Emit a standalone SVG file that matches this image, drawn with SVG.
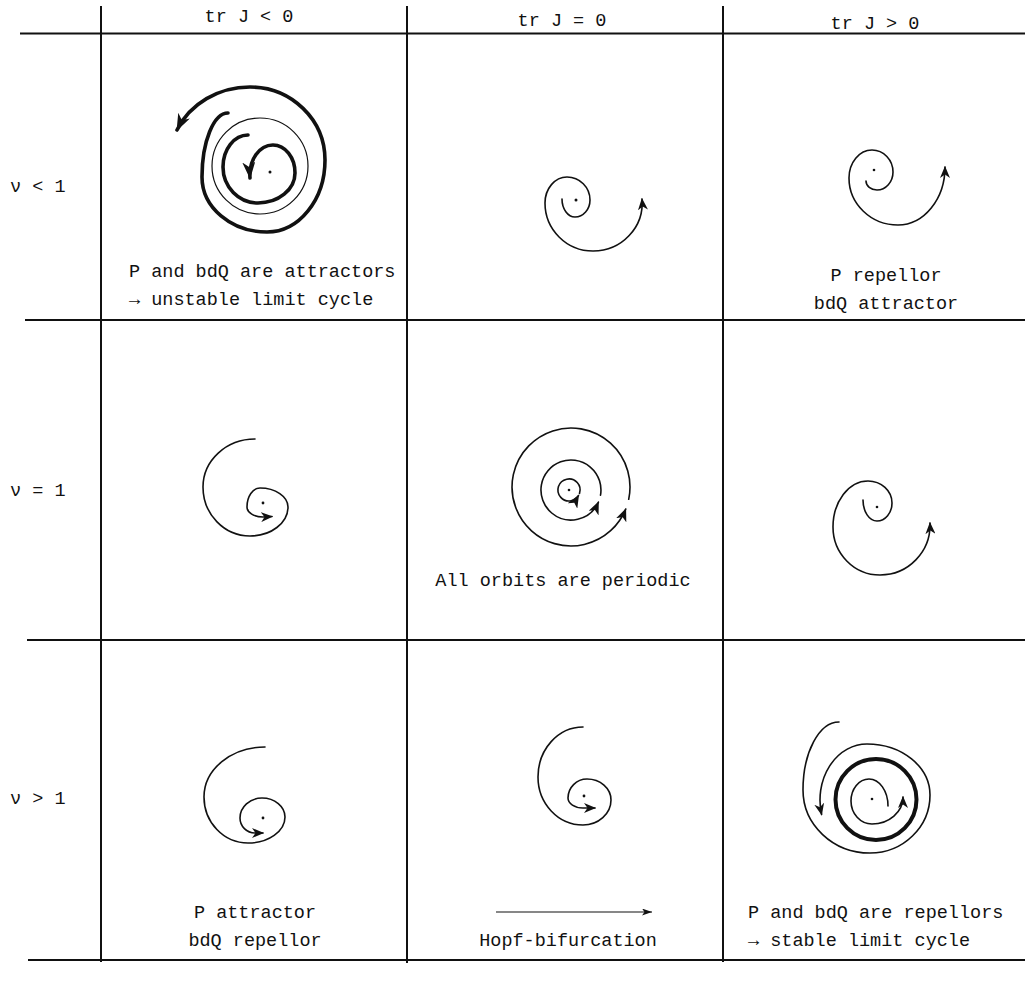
<svg xmlns="http://www.w3.org/2000/svg" width="1025" height="990" viewBox="0 0 1025 990">
<style>
.t{font-family:"Liberation Mono",monospace;font-size:18.5px;fill:#111}
.m{text-anchor:middle}
.g{stroke:#111;stroke-width:2;fill:none}
.s{stroke:#111;stroke-width:1.6;fill:none;stroke-linecap:round}
.k{stroke:#111;stroke-width:3.6;fill:none;stroke-linecap:round}
.th{stroke:#111;stroke-width:1.2;fill:none}
.d{fill:#111}
</style>
<defs>
<marker id="a" markerUnits="userSpaceOnUse" viewBox="0 0 12 10" refX="11" refY="5" markerWidth="12" markerHeight="10" orient="auto"><path d="M0,0 L12,5 L0,10 L3.5,5 Z" fill="#111"/></marker>
<marker id="aB" markerUnits="userSpaceOnUse" viewBox="0 0 13 11" refX="12" refY="5.5" markerWidth="13" markerHeight="11" orient="auto"><path d="M0,0 L13,5.5 L0,11 L3.5,5.5 Z" fill="#111"/></marker>
<marker id="aL" markerUnits="userSpaceOnUse" viewBox="0 0 17 13" refX="16" refY="6.5" markerWidth="17" markerHeight="13" orient="auto"><path d="M0,0 L17,6.5 L0,13 L5,6.5 Z" fill="#111"/></marker>
<marker id="aS" markerUnits="userSpaceOnUse" viewBox="0 0 10 7" refX="10" refY="3.5" markerWidth="10" markerHeight="7" orient="auto"><path d="M0,0 L10,3.5 L0,7 L2.5,3.5 Z" fill="#111"/></marker>
</defs>
<rect width="1025" height="990" fill="#fff"/>
<g id="grid">
<path class="g" d="M20,33.5 L1025,33.5 M25,320 L1025,320 M27,640 L1025,640 M28,960 L1025,960"/>
<path class="g" d="M101,6 L101,962" stroke-width="2.6"/>
<path class="g" d="M407,6 L407,963 M723,6 L723,962"/>
</g>
<g id="headers">
<text class="t m" x="249" y="22">tr J &lt; 0</text>
<text class="t m" x="562" y="26">tr J = 0</text>
<text class="t m" x="875" y="29">tr J &gt; 0</text>
<text class="t" x="10" y="192">ν &lt; 1</text>
<text class="t" x="10" y="496">ν = 1</text>
<text class="t" x="10" y="804">ν &gt; 1</text>
</g>
<g id="cell-r1c1">
<path class="k" marker-end="url(#aL)" d="M228,113 A26,64 0 0 0 202,177 A65,55 0 0 0 267,232 A58,72 0 0 0 325,160 A75,73 0 0 0 250,87 A80,73 0 0 0 177,130"/>
<circle cx="260" cy="166" r="48" class="th" stroke-width="1.4"/>
<path class="k" stroke-width="3.2" marker-end="url(#aL)" d="M248,135 A25,32 0 0 0 223,167 A35,36 0 0 0 258,203 A37,30 0 0 0 295,173 A22,28 0 0 0 273,145 A23,30 0 0 0 250,178"/>
<circle class="d" cx="270" cy="172" r="1.5"/>
<text class="t" x="129" y="277">P and bdQ are attractors</text>
<text class="t" x="129" y="305">→ unstable limit cycle</text>
</g>
<g id="cell-r1c2">
<path class="s" marker-end="url(#a)" d="M562,199 A13,18 0 0 0 575,217 A15,17 0 0 0 590,200 A23,23 0 0 0 567,177 A22,26 0 0 0 545,203 A48,48 0 0 0 593,251 A49,48 0 0 0 642,199"/>
<circle class="d" cx="576" cy="200" r="1.5"/>
</g>
<g id="cell-r1c3">
<path class="s" marker-end="url(#a)" d="M866,181 A11,9 0 0 0 877,190 A16,18 0 0 0 893,172 A21,22 0 0 0 872,150 A23,28 0 0 0 849,178 A49,47 0 0 0 898,225 A47,58 0 0 0 945,167"/>
<circle class="d" cx="874" cy="170" r="1.3"/>
<text class="t m" x="886" y="281">P repellor</text>
<text class="t m" x="886" y="309">bdQ attractor</text>
</g>
<g id="cell-r2c1">
<path class="s" marker-end="url(#a)" d="M255,439 A52,48 0 0 0 203,487 A47,49 0 0 0 250,536 A38,29 0 0 0 288,507 A28,19 0 0 0 260,488 A13,19 0 0 0 247,507 A16,10 0 0 0 263,517 L272,516.5"/>
<circle class="d" cx="263" cy="503" r="1.4"/>
</g>
<g id="cell-r2c2">
<path class="s" stroke-width="1.5" marker-end="url(#aB)" d="M579.5,493.4 A11,11 0 0 0 566.7,479.2 A11,11 0 0 0 560.8,497.4 A11,11 0 0 0 578.5,495.5"/>
<path class="s" stroke-width="1.5" marker-end="url(#aB)" d="M600.5,495.2 A30,30 0 0 0 560.7,461.8 A30,30 0 0 0 551.7,513 A30,30 0 0 0 598.4,502.2"/>
<path class="s" stroke-width="1.5" marker-end="url(#aB)" d="M628.7,499.3 A59,59 0 0 0 552.8,430.9 A59,59 0 0 0 531.5,530.8 A59,59 0 0 0 625.7,509.1"/>
<circle class="d" cx="569" cy="490" r="1.3"/>
<text class="t m" x="563" y="586">All orbits are periodic</text>
</g>
<g id="cell-r2c3">
<path class="s" marker-end="url(#a)" d="M863,500 A14,21 0 0 0 877,521 A15,18 0 0 0 892,503 A24,22 0 0 0 868,481 A35,46 0 0 0 833,527 A47,48 0 0 0 880,575 A50,50 0 0 0 930,523"/>
<circle class="d" cx="877" cy="507" r="1.3"/>
</g>
<g id="cell-r3c1">
<path class="s" marker-end="url(#a)" d="M265,747 A61,50 0 0 0 204,797 A44,46 0 0 0 248,843 A37,26 0 0 0 285,817 A23,19 0 0 0 262,798 A22,20 0 0 0 240,818 A15,15 0 0 0 255,833 L263,833"/>
<circle class="d" cx="263" cy="818" r="1.4"/>
<text class="t m" x="255" y="918">P attractor</text>
<text class="t m" x="255" y="946">bdQ repellor</text>
</g>
<g id="cell-r3c2">
<path class="s" marker-end="url(#a)" d="M583,727 A45,50 0 0 0 538,777 A45,48 0 0 0 583,825 A28,25 0 0 0 611,800 A24,21 0 0 0 587,779 A19,19 0 0 0 568,798 A15,10 0 0 0 583,808 L595,808"/>
<circle class="d" cx="584" cy="796" r="1.4"/>
<path class="th" marker-end="url(#aS)" d="M496,912 L652,912"/>
<text class="t m" x="568" y="946">Hopf-bifurcation</text>
</g>
<g id="cell-r3c3">
<path class="s" stroke-width="1.4" marker-end="url(#a)" d="M839,722 A36,68 0 0 0 803,790 A67,63 0 0 0 870,853 A60,58 0 0 0 930,795 A63,51 0 0 0 867,744 A47,56 0 0 0 821.6,814.5"/>
<circle cx="876" cy="799.5" r="40.5" fill="none" stroke="#111" stroke-width="4"/>
<path class="s" stroke-width="1.4" marker-end="url(#a)" d="M888,806 A19,27 0 0 0 869,779 A18,22 0 0 0 851,801 A21,23 0 0 0 872,824 A31,27 0 0 0 903,797"/>
<circle class="d" cx="872" cy="799" r="1.3"/>
<text class="t" x="748" y="918">P and bdQ are repellors</text>
<text class="t" x="748" y="946">→ stable limit cycle</text>
</g>
</svg>
